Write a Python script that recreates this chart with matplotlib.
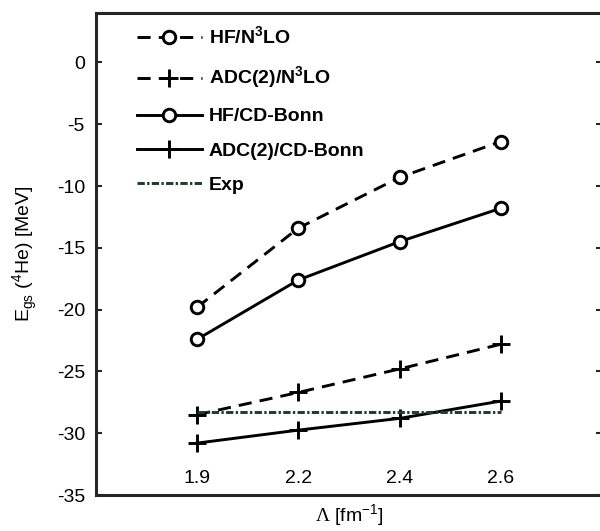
import matplotlib.pyplot as plt
import numpy as np

plt.rcParams['font.family'] = ['Liberation Sans', 'DejaVu Sans']
plt.rcParams['mathtext.fontset'] = 'custom'
plt.rcParams['mathtext.rm'] = 'Liberation Sans'
plt.rcParams['mathtext.bf'] = 'Liberation Sans:bold'
plt.rcParams['mathtext.sf'] = 'Liberation Serif'
plt.rcParams['axes.unicode_minus'] = False

# dados
cutoffs = ["1.9", "2.2", "2.4", "2.6"]
hf_n3lo = [-19.8, -13.4, -9.3, -6.4]
adc_n3lo = [-28.5, -26.7, -24.8, -22.8]
hf_cdbonn = [-22.4, -17.6, -14.5, -11.8]
adc_cdbonn = [-30.8, -29.75, -28.8, -27.4]
exp_val = -28.3

x = np.arange(1, len(cutoffs) + 1)

fig = plt.figure(figsize=(6, 5.31), dpi=100)
ax = fig.add_axes([96 / 600, 36 / 531, 506 / 600, 482 / 531])

lw = 2.1
ms = 9
mew = 2.1
ax.plot(x, hf_n3lo, ls=(0, (4.5, 2.8)), color='black', lw=lw, marker='o', ms=ms,
        mfc='white', mew=mew, label=r'HF/N$^\mathbf{3}$LO')
ax.plot(x, adc_n3lo, ls=(0, (4.5, 2.8)), color='black', lw=lw, marker='+', ms=13,
        mew=mew, label=r'ADC(2)/N$^\mathbf{3}$LO')
ax.plot(x, hf_cdbonn, ls='-', color='black', lw=lw, marker='o', ms=ms,
        mfc='white', mew=mew, label='HF/CD-Bonn')
ax.plot(x, adc_cdbonn, ls='-', color='black', lw=lw, marker='+', ms=13,
        mew=mew, label='ADC(2)/CD-Bonn')
ax.plot([x[0], x[-1]], [exp_val, exp_val], ls=(0, (2.5, 0.8, 0.8, 0.8)),
        color='#1b3d2b', lw=lw, label='Exp')

ax.set_xlim(0, 5)
ax.set_ylim(-35, 4)
ax.set_xticks(x)
ax.set_xticklabels(cutoffs)
ax.set_yticks(np.arange(-35, 1, 5))

ax.tick_params(axis='x', length=0, pad=-18, labelsize=14)
ax.tick_params(axis='y', direction='in', length=4, width=1.5, color='#262626',
               right=True, labelsize=14, pad=8)

for s in ax.spines.values():
    s.set_linewidth(2.2)
    s.set_color('#262626')

ax.set_xlabel(r'$\mathsf{\Lambda}$ [fm$^{-1}$]', fontsize=14, labelpad=5)
ax.set_ylabel(r'E$_{\mathrm{gs}}$ ($^{4}$He) [MeV]', fontsize=14, labelpad=12)

leg = ax.legend(loc='upper left', frameon=False, prop={'weight': 'bold', 'size': 14},
                handlelength=3.35, labelspacing=0.85, borderaxespad=0,
                handletextpad=0.35, bbox_to_anchor=(0.065, 0.99))

fig.savefig('out.png', dpi=100)
